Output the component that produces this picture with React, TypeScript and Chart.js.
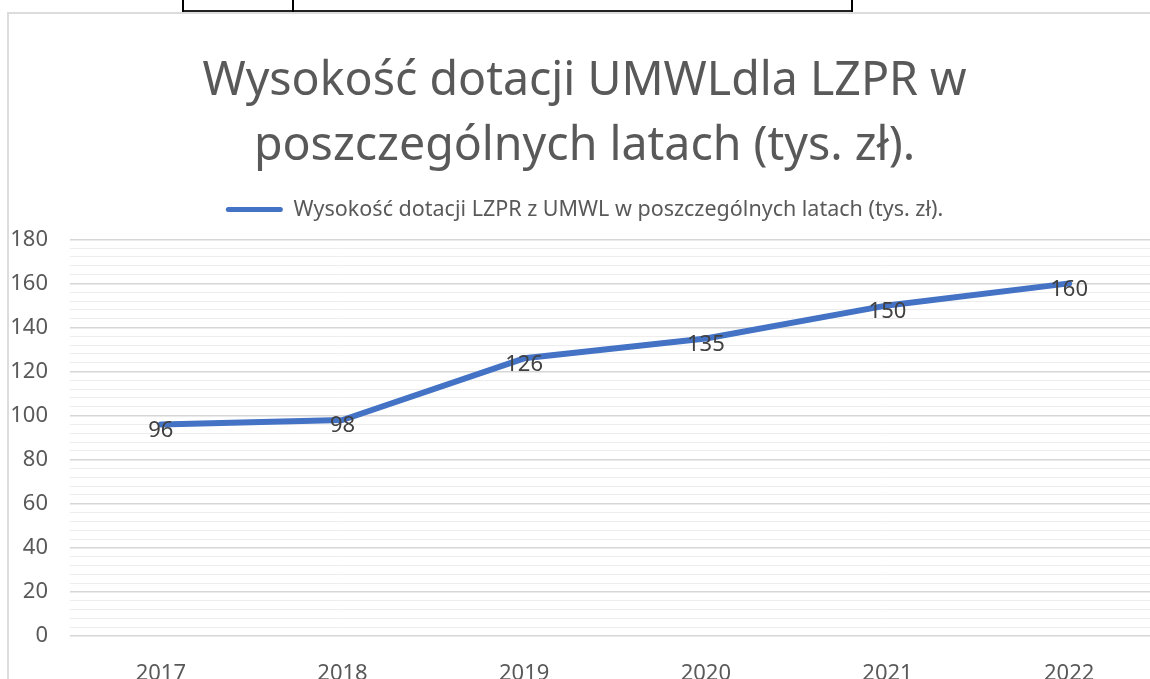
import React, { useEffect, useRef } from "react";
import { Chart, registerables } from "chart.js";

Chart.register(...registerables);

const years = ["2017", "2018", "2019", "2020", "2021", "2022"];
const dotacja = [96, 98, 126, 135, 150, 160];
const seriesLabel = "Wysokość dotacji LZPR z UMWL w poszczególnych latach (tys. zł).";
const titleLines = ["Wysokość dotacji UMWLdla LZPR w", "poszczególnych latach (tys. zł)."];
const yMax = 180;
const yMinorStep = 4;
const yMajorStep = 20;

const FONT = "'Noto Sans', sans-serif";
const TEXT = "#595959";
const BLUE = "#4472C4";

const dataLabelPlugin = {
  id: "dataLabels",
  afterDatasetsDraw(chart: any) {
    const ctx = chart.ctx;
    const meta = chart.getDatasetMeta(0);
    ctx.save();
    ctx.font = `22px ${FONT}`;
    ctx.fillStyle = "#404040";
    ctx.textAlign = "center";
    ctx.textBaseline = "middle";
    meta.data.forEach((pt: any, i: number) => {
      ctx.fillText(String(dotacja[i]), pt.x, pt.y + 6);
    });
    ctx.restore();
  },
};

const legendSpacePlugin = {
  id: "legendSpace",
  beforeLayout(chart: any) {
    const lg = chart.legend;
    if (lg && !lg._extraSpace) {
      const fit = lg.fit;
      lg.fit = function () {
        fit.call(this);
        this.height += 9;
      };
      lg._extraSpace = true;
    }
  },
};

export default function App() {
  const ref = useRef<HTMLCanvasElement | null>(null);
  useEffect(() => {
    if (!ref.current) return;
    const chart = new Chart(ref.current, {
      type: "line",
      data: {
        labels: years,
        datasets: [
          {
            label: seriesLabel,
            data: dotacja,
            borderColor: BLUE,
            backgroundColor: BLUE,
            borderWidth: 6,
            borderCapStyle: "round",
            borderJoinStyle: "round",
            pointRadius: 0,
            tension: 0,
          },
        ],
      },
      options: {
        responsive: false,
        animation: false,
        layout: { padding: { top: 0, right: 11, bottom: 0, left: 0 } },
        plugins: {
          tooltip: { enabled: false },
          title: {
            display: true,
            text: titleLines,
            color: TEXT,
            font: { family: FONT, size: 46.5, weight: "normal", lineHeight: 65 / 46.5 },
            padding: { top: 35.5, bottom: -2 },
          },
          legend: {
            display: true,
            position: "top",
            labels: {
              color: TEXT,
              font: { family: FONT, size: 21.5 },
              boxWidth: 57,
              boxHeight: 5,
              padding: 21.3,
              useBorderRadius: true,
              borderRadius: 2.5,
              generateLabels: (c: any) =>
                Chart.defaults.plugins.legend.labels.generateLabels(c).map((it: any) => ({
                  ...it,
                  fillStyle: BLUE,
                  strokeStyle: BLUE,
                  lineWidth: 0,
                })),
            },
          },
        },
        scales: {
          x: {
            offset: true,
            grid: { display: false, drawTicks: false },
            border: { display: false },
            ticks: { color: TEXT, font: { family: FONT, size: 22 }, padding: 25, maxRotation: 0 },
            afterFit: (s: any) => {
              s.height = 78;
            },
          },
          y: {
            min: 0,
            max: yMax,
            grid: {
              drawTicks: false,
              color: (c: any) => (c.tick && c.tick.value % yMajorStep === 0 ? "#d6d6d6" : "#ededed"),
              lineWidth: (c: any) => (c.tick && c.tick.value % yMajorStep === 0 ? 1.5 : 1),
            },
            border: { display: false },
            ticks: {
              stepSize: yMinorStep,
              autoSkip: false,
              color: TEXT,
              font: { family: FONT, size: 22 },
              padding: 22,
              callback: (v: any) => (Number(v) % yMajorStep === 0 ? String(v) : ""),
            },
            afterFit: (s: any) => {
              s.width = 61;
            },
          },
        },
      },
      plugins: [legendSpacePlugin, dataLabelPlugin],
    });
    return () => chart.destroy();
  }, []);

  return (
    <div
      style={{
        position: "fixed",
        left: 0,
        top: 0,
        width: 1150,
        height: 679,
        overflow: "hidden",
        background: "#fff",
      }}
    >
      <div style={{ position: "absolute", left: 183, top: 10, width: 670, height: 1.5, background: "#222" }} />
      <div style={{ position: "absolute", left: 182, top: 0, width: 2, height: 12, background: "#000" }} />
      <div style={{ position: "absolute", left: 292, top: 0, width: 2, height: 12, background: "#000" }} />
      <div style={{ position: "absolute", left: 851, top: 0, width: 2, height: 12, background: "#000" }} />
      <div
        style={{
          position: "absolute",
          left: 7,
          top: 12,
          width: 1200,
          height: 720,
          borderTop: "2px solid #dcdcdc",
          borderLeft: "2px solid #dcdcdc",
        }}
      />
      <canvas
        ref={ref}
        width={1162}
        height={700}
        style={{ position: "absolute", left: 9, top: 14, width: 1162, height: 700 }}
      />
    </div>
  );
}
